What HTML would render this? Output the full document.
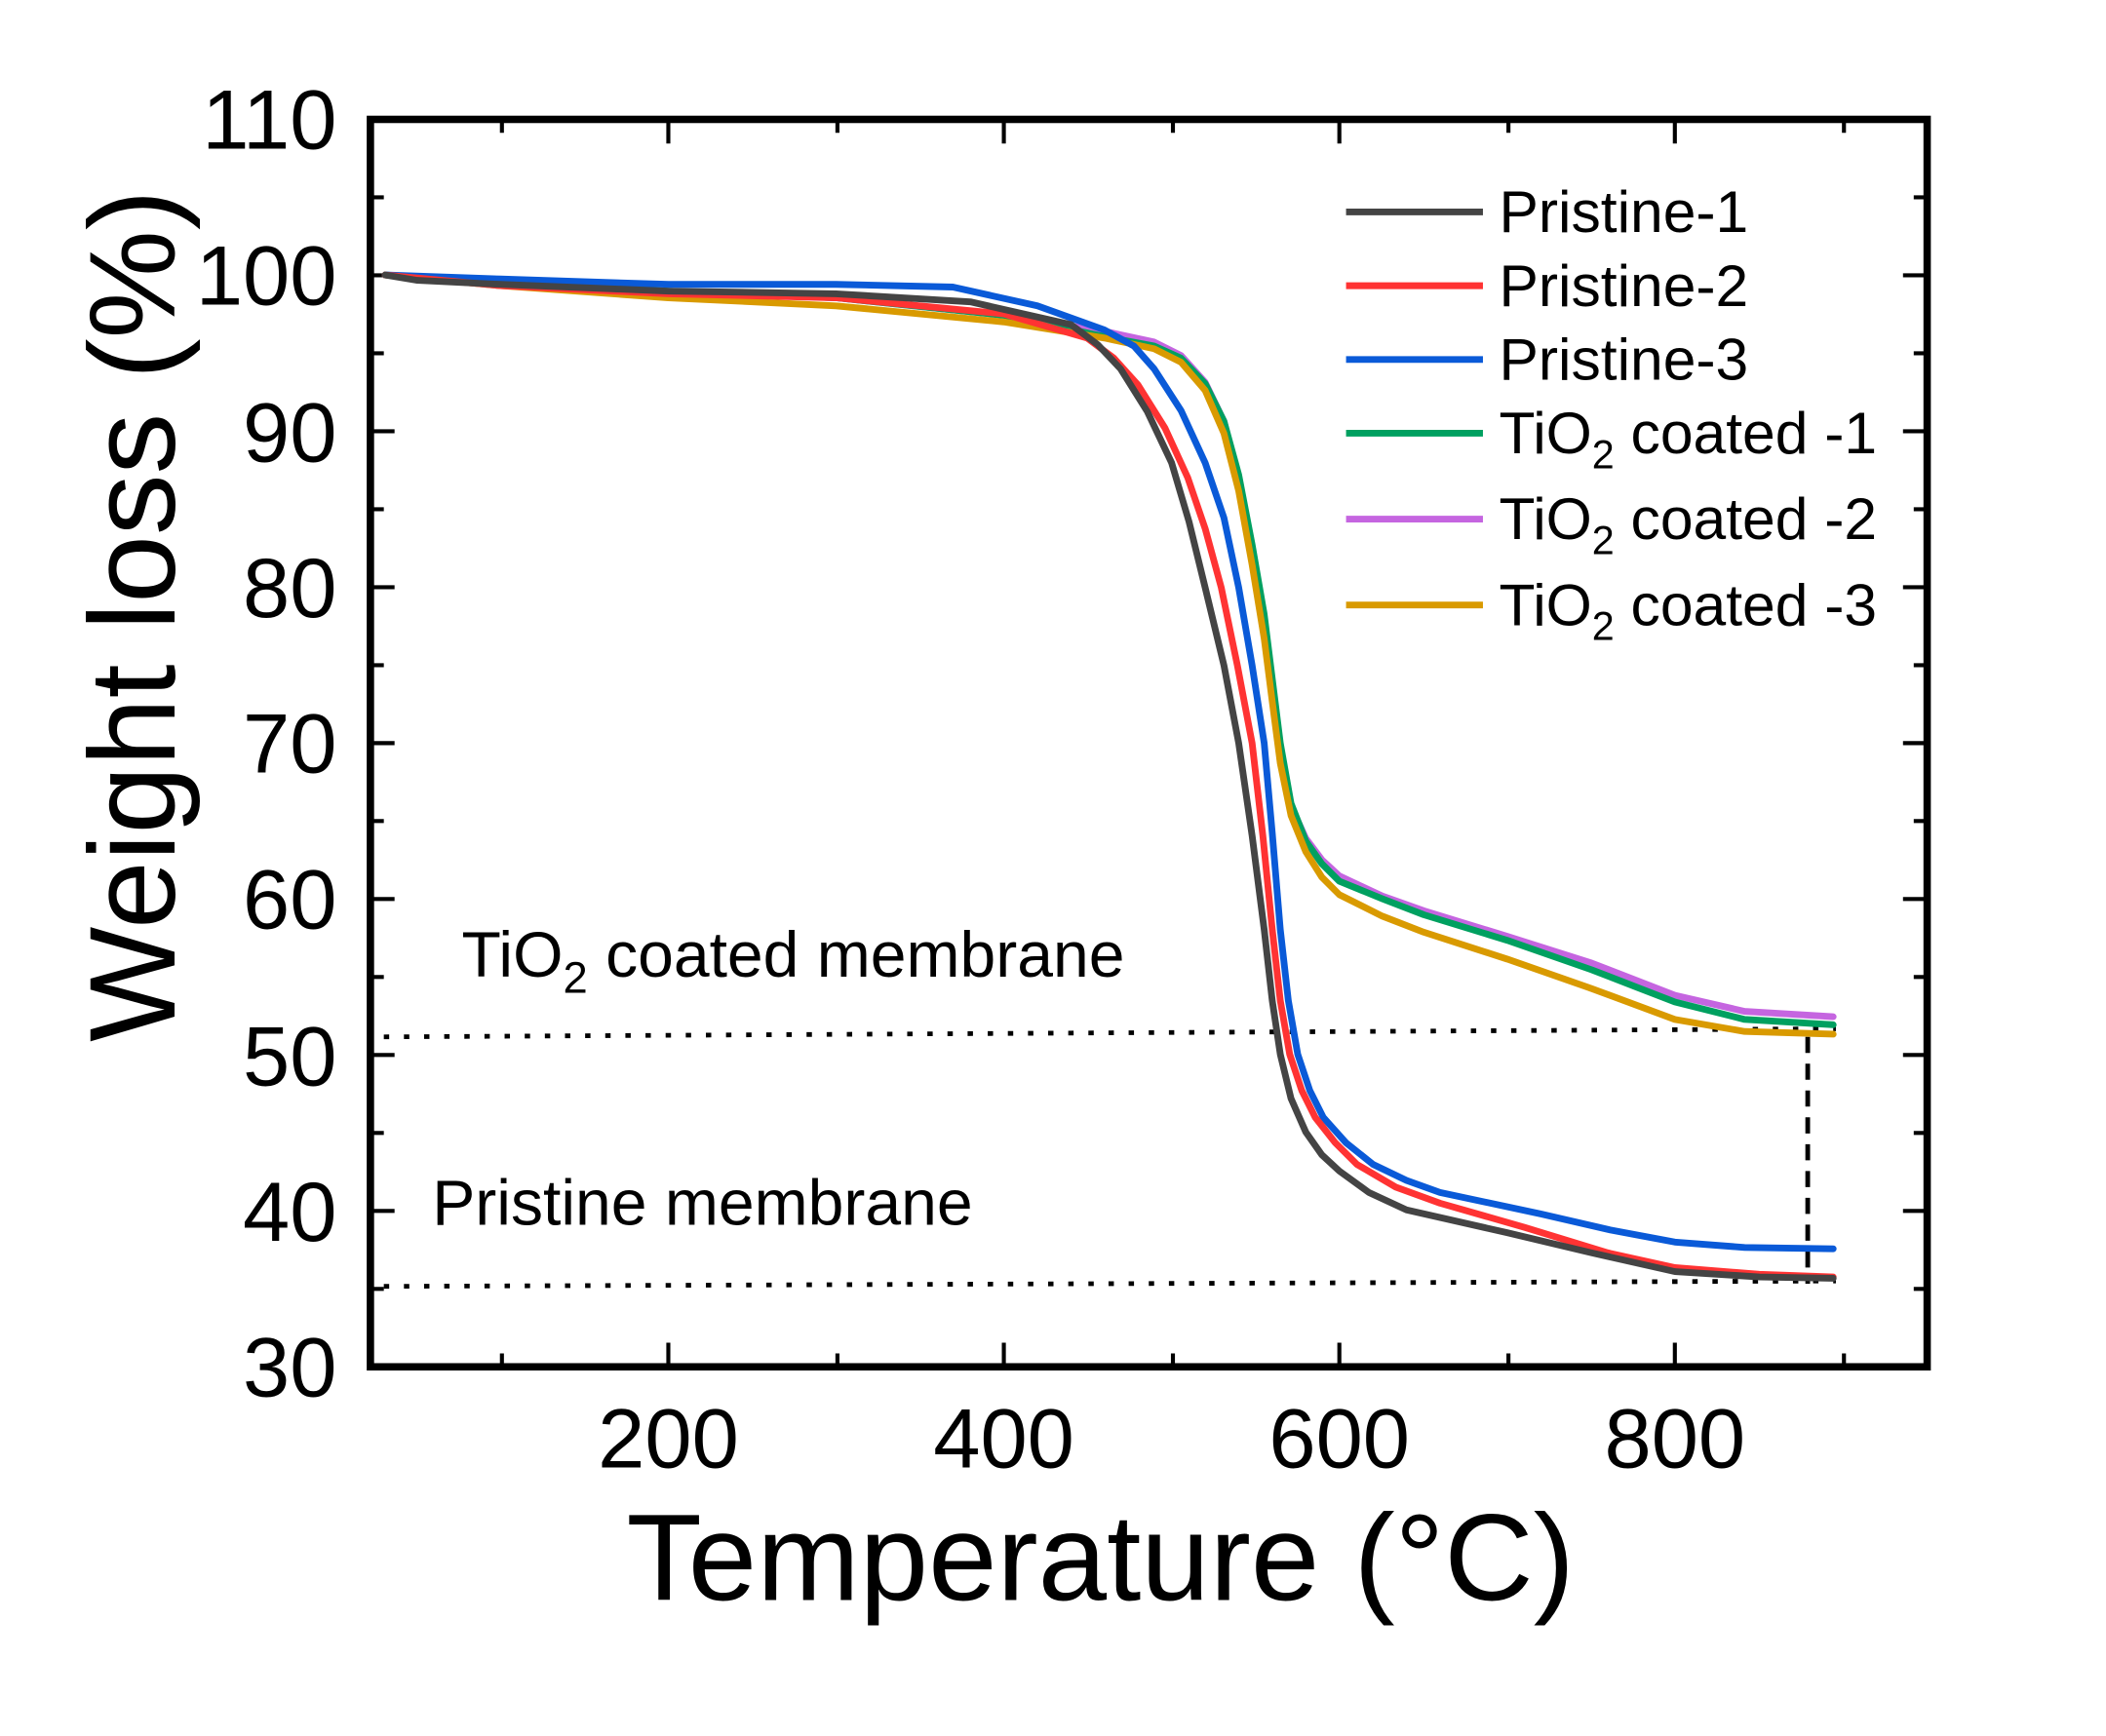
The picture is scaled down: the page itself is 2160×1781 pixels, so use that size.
<!DOCTYPE html>
<html><head><meta charset="utf-8"><style>
html,body{margin:0;padding:0;background:#fff;}
svg{display:block;}
text{font-family:"Liberation Sans",Arial,sans-serif;fill:#000;}
</style></head><body>
<svg width="2160" height="1781" viewBox="0 0 1552 1280" preserveAspectRatio="none" xmlns="http://www.w3.org/2000/svg">
<rect width="1552" height="1280" fill="#fff"/>
<g transform="translate(0,1) scale(0.989)">
<g stroke="#000" stroke-width="3" fill="none">
<rect x="276" y="88" width="1160" height="930" stroke-width="5.5"/>
<path d="M498 1018v-18M748 1018v-18M998 1018v-18M1248 1018v-18M374 1018v-10M624 1018v-10M874 1018v-10M1124 1018v-10M1374 1018v-10
M498 88v18M748 88v18M998 88v18M1248 88v18M374 88v10M624 88v10M874 88v10M1124 88v10M1374 88v10"/>
<path d="M276 901.75h18M276 785.5h18M276 669.25h18M276 553h18M276 436.75h18M276 320.5h18M276 204.25h18
M276 959.9h10M276 843.6h10M276 727.4h10M276 611.1h10M276 494.9h10M276 378.6h10M276 262.4h10M276 146.1h10
M1436 901.75h-18M1436 785.5h-18M1436 669.25h-18M1436 553h-18M1436 436.75h-18M1436 320.5h-18M1436 204.25h-18
M1436 959.9h-10M1436 843.6h-10M1436 727.4h-10M1436 611.1h-10M1436 494.9h-10M1436 378.6h-10M1436 262.4h-10M1436 146.1h-10"/>
</g>
<g font-size="63" text-anchor="end">
<text x="251" y="1040">30</text><text x="251" y="924">40</text><text x="251" y="808">50</text>
<text x="251" y="691">60</text><text x="251" y="575">70</text><text x="251" y="459">80</text>
<text x="251" y="343">90</text><text x="251" y="226">100</text><text x="251" y="110">110</text>
</g>
<g font-size="63" text-anchor="middle">
<text x="498" y="1093">200</text><text x="748" y="1093">400</text><text x="998" y="1093">600</text><text x="1248" y="1093">800</text>
</g>
<text x="820" y="1192" font-size="92" text-anchor="middle">Temperature (°C)</text>
<text transform="translate(130,458) rotate(-90)" font-size="91" text-anchor="middle">Weight loss (%)</text>
<g stroke="#000" stroke-width="3.5" fill="none">
<path d="M286 772L1368 766" stroke-dasharray="4 11"/>
<path d="M286 958L1368 954" stroke-dasharray="4 11"/>
<path d="M1347 772V956" stroke-dasharray="12 8"/>
</g>
<g fill="none" stroke-width="5" stroke-linejoin="round" stroke-linecap="round">
<polyline stroke="#c565e0" points="287,204 373,211 498,216 623,221 748,234 823,246 860,254 880,264 898,284 912,313 923,356 933,410 942,470 948,515 954,563 962,600 973,624 985,640 998,652 1030,667 1061,678 1123,697 1186,717 1248,741 1300,753 1366,757"/>
<polyline stroke="#00a060" points="287,204 373,210 498,216 623,221 748,234 823,250 860,257 880,266 898,285 912,313 923,353 933,405 942,457 948,505 954,553 962,598 973,626 985,643 998,656 1030,669 1061,681 1123,700 1186,722 1248,746 1300,759 1366,763"/>
<polyline stroke="#d99a00" points="287,204 373,212 498,221 623,227 748,239 823,251 860,259 880,269 898,290 912,322 923,365 933,420 942,475 948,522 954,568 962,607 973,634 985,653 998,666 1030,682 1061,694 1123,714 1186,736 1248,759 1300,768 1366,770"/>
<polyline stroke="#0a5ad8" points="287,204 373,207 498,211 623,211 710,213 773,227 823,245 845,257 860,274 880,305 898,344 912,385 923,437 933,495 942,553 948,620 954,692 960,745 967,785 976,812 986,832 1003,851 1023,867 1048,879 1073,888 1148,904 1200,916 1248,925 1300,929 1366,930"/>
<polyline stroke="#ff3333" points="287,204 373,212 498,218 623,221 748,233 810,251 830,266 848,286 868,318 885,355 898,393 910,437 922,495 933,553 941,622 948,692 954,745 961,785 970,812 980,832 995,851 1011,867 1040,884 1073,896 1136,914 1198,933 1248,944 1311,949 1366,951"/>
<polyline stroke="#444" points="287,204 311,208 373,211 498,216 623,218 723,224 798,241 818,256 835,274 855,306 873,344 886,388 898,437 912,495 923,553 933,622 942,692 948,745 954,785 962,818 973,843 985,860 998,872 1020,888 1048,901 1123,918 1186,933 1248,947 1311,951 1366,952"/>
</g>
<g stroke-width="5">
<line x1="1003" y1="157" x2="1105" y2="157" stroke="#444"/>
<line x1="1003" y1="212" x2="1105" y2="212" stroke="#ff3333"/>
<line x1="1003" y1="267" x2="1105" y2="267" stroke="#0a5ad8"/>
<line x1="1003" y1="322" x2="1105" y2="322" stroke="#00a060"/>
<line x1="1003" y1="386" x2="1105" y2="386" stroke="#c565e0"/>
<line x1="1003" y1="450" x2="1105" y2="450" stroke="#d99a00"/>
</g>
<g font-size="44">
<text x="1117" y="172">Pristine-1</text>
<text x="1117" y="227">Pristine-2</text>
<text x="1117" y="282">Pristine-3</text>
<text x="1117" y="337">TiO<tspan font-size="30" dy="11">2</tspan><tspan dy="-11"> coated -1</tspan></text>
<text x="1117" y="401">TiO<tspan font-size="30" dy="11">2</tspan><tspan dy="-11"> coated -2</tspan></text>
<text x="1117" y="465">TiO<tspan font-size="30" dy="11">2</tspan><tspan dy="-11"> coated -3</tspan></text>
</g>
<g font-size="48">
<text x="344" y="727">TiO<tspan font-size="33" dy="12">2</tspan><tspan dy="-12"> coated membrane</tspan></text>
<text x="322" y="912">Pristine membrane</text>
</g>
</g>
</svg>
</body></html>
